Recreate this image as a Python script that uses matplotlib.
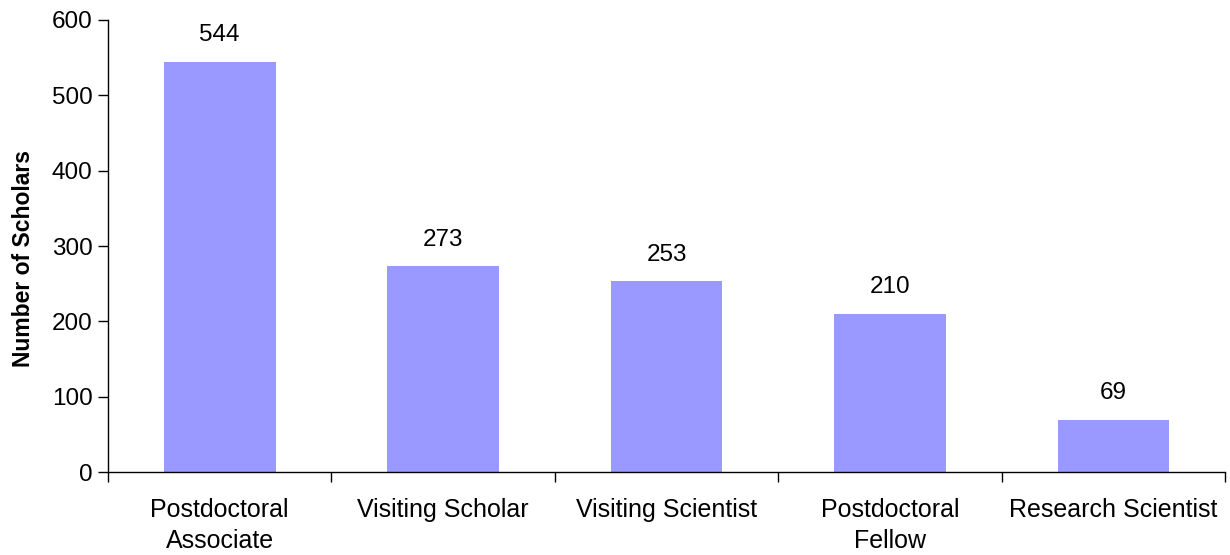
import matplotlib
matplotlib.use("Agg")
import matplotlib.pyplot as plt
import numpy as np

categories = ["Postdoctoral\nAssociate", "Visiting Scholar", "Visiting Scientist",
              "Postdoctoral\nFellow", "Research Scientist"]
values = [544, 273, 253, 210, 69]
yticks = [0, 100, 200, 300, 400, 500, 600]

plt.rcParams['font.family'] = ['Liberation Sans', 'DejaVu Sans']
fig = plt.figure(figsize=(12.3, 5.55), dpi=100)
ax = fig.add_axes([0.0878, 0.1495, 0.9082, 0.8145])

x = np.arange(len(categories))
bars = ax.bar(x, values, width=0.5, color='#9999FF', zorder=2)
for xi, v in zip(x, values):
    ax.annotate(str(v), (xi, v), xytext=(0, 15), textcoords='offset points',
                ha='center', va='baseline', fontsize=17.5)

ax.set_xlim(-0.5, len(categories) - 0.5)
ax.set_ylim(0, 600)
ax.set_yticks(yticks)
ax.set_yticklabels([str(t) for t in yticks], fontsize=17.5)
ax.tick_params(axis='y', direction='out', length=7, width=1, pad=4)

ax.set_xticks(x)
ax.set_xticklabels(categories, fontsize=18, linespacing=1.36)
ax.tick_params(axis='x', length=0, pad=19)
ax.set_xticks(np.arange(len(categories) + 1) - 0.5, minor=True)
ax.tick_params(axis='x', which='minor', direction='out', length=7, width=1)

for s in ['top', 'right']:
    ax.spines[s].set_visible(False)
for s in ['left', 'bottom']:
    ax.spines[s].set_linewidth(1)

ax.set_ylabel("Number of Scholars", fontsize=16.5, fontweight='bold')
ax.yaxis.set_label_coords(-0.0655, 0.473)

fig.savefig("out.png", dpi=100)
